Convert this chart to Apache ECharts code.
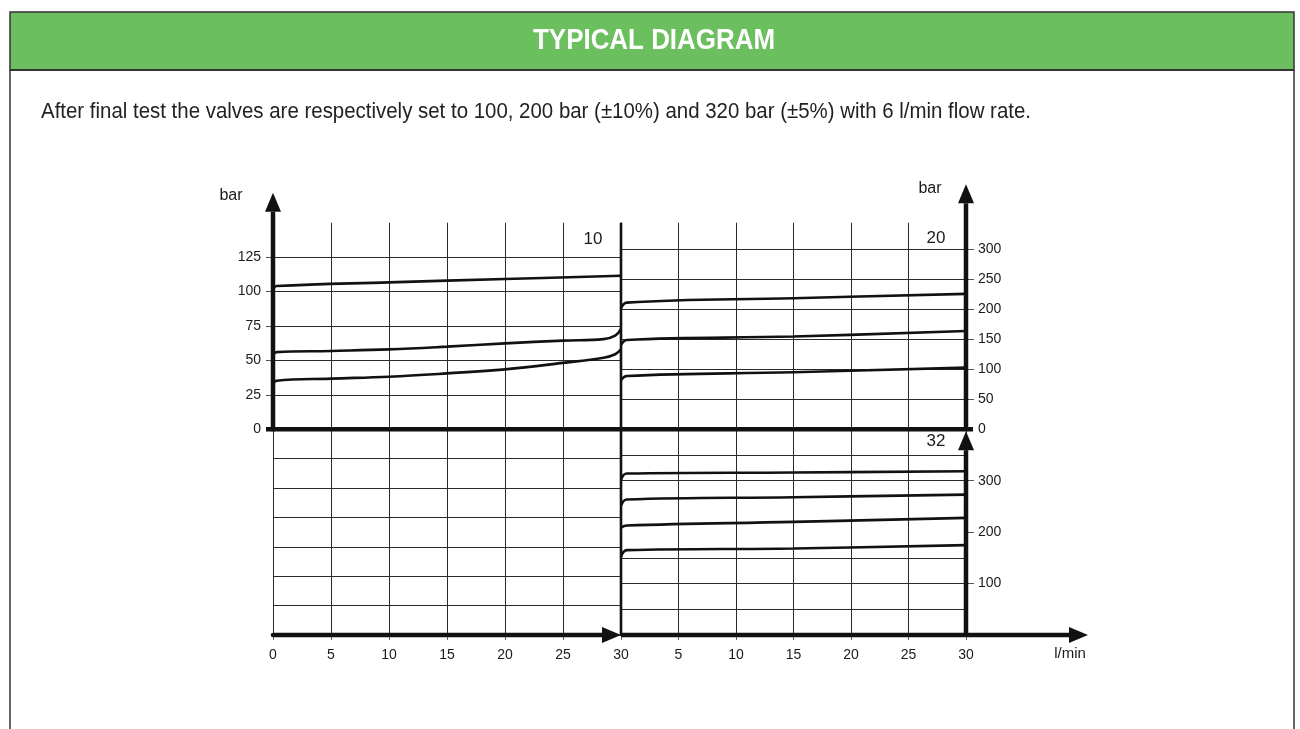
<!DOCTYPE html>
<html><head><meta charset="utf-8">
<script src="https://cdn.jsdelivr.net/npm/echarts@6/dist/echarts.min.js"></script>
<style>html,body{margin:0;padding:0;background:#fff}#c{width:1300px;height:729px}</style>
</head><body><div id="c"></div>
<script>
// ---- data ----
const flowTicks = [0, 5, 10, 15, 20, 25, 30];
const flowTicksRight = [5, 10, 15, 20, 25, 30];
const barTicks10 = [0, 25, 50, 75, 100, 125];
const barTicks20 = [0, 50, 100, 150, 200, 250, 300];
const barTicks32 = [100, 200, 300];
const gridLines32 = [50, 100, 150, 300, 350];

// valve 10 (left upper panel, bar 0-150)
const v10HighX = [0, 0.3, 10, 20, 30];
const v10High  = [102, 104, 106.7, 109.1, 111.5];
const v10MidX  = [0, 0.3, 5, 10, 15, 20, 25, 28.5, 29.5, 30];
const v10Mid   = [54, 56, 56.9, 58, 60, 62.4, 64.4, 65.5, 68, 73];
const v10LowX  = [0, 0.3, 5, 10, 15, 20, 25, 28.5, 29.5, 30];
const v10Low   = [33, 35.3, 36.8, 38.2, 40.6, 43.5, 48.2, 52, 54.5, 58];

// valve 20 (right upper panel, bar 0-300)
const v20X    = [0, 0.5, 15, 30];
const v20High = [201.6, 211, 218.3, 225.5];
const v20Mid  = [140.5, 148.8, 154.4, 163.8];
const v20Low  = [82, 88.8, 95, 102.7];

// valve 32 (right lower panel, bar 0-400)
const v32X  = [0, 0.5, 15, 30];
const v32A  = [302, 314, 316, 318.4];
const v32B  = [252, 263.5, 268, 273];
const v32C  = [209, 213, 220, 227.8];
const v32D  = [152, 165, 168.3, 174.8];

const titleText = 'TYPICAL DIAGRAM';
const noteText = 'After final test the valves are respectively set to 100, 200 bar (\u00b110%) and 320 bar (\u00b15%) with 6 l/min flow rate.';

// ---- chart ----
const chart = echarts.init(document.getElementById('c'), null, {renderer: 'canvas'});
const GRID = '#2a2a2a';
const labelFont = {fontFamily: 'Liberation Sans, Arial, sans-serif', fontSize: 14, color: '#1a1a1a'};
const pair = (xs, ys) => xs.map((x, i) => [x, ys[i]]);

function xAx(g, showLabels, labelVals) {
  return {
    gridIndex: g, type: 'value', min: 0, max: 30, interval: 5,
    axisLine: {show: false, onZero: false},
    axisTick: showLabels ? {show: true, length: 5, lineStyle: {color: '#666'}, customValues: labelVals} : {show: false},
    axisLabel: showLabels ? Object.assign({show: true, margin: 13, customValues: labelVals}, labelFont) : {show: false},
    splitLine: {show: true, lineStyle: {color: GRID, width: 1}}
  };
}
function line(xs, ys, xi, yi, extra) {
  return Object.assign({
    type: 'line', xAxisIndex: xi, yAxisIndex: yi, data: pair(xs, ys),
    symbol: 'none', showSymbol: false, smooth: 0.4, silent: true, z: 5,
    lineStyle: {color: '#111', width: 2.6}
  }, extra || {});
}

const option = {
  animation: false,
  backgroundColor: '#fff',
  grid: [
    {left: 273, top: 222.7, width: 348, height: 206.6},
    {left: 621, top: 222.7, width: 345, height: 206.6},
    {left: 273, top: 429.3, width: 348, height: 205.7},
    {left: 621, top: 429.3, width: 345, height: 205.7}
  ],
  xAxis: [
    xAx(0, false), xAx(1, false),
    xAx(2, true, flowTicks), xAx(3, true, flowTicksRight)
  ],
  yAxis: [
    {gridIndex: 0, type: 'value', min: 0, max: 150, interval: 25, position: 'left',
     axisLine: {show: false, onZero: false},
     axisTick: {show: true, length: 7, lineStyle: {color: '#555'}, customValues: barTicks10.slice(1)},
     axisLabel: Object.assign({margin: 12, customValues: barTicks10}, labelFont),
     splitLine: {show: true, lineStyle: {color: GRID, width: 1}}},
    {gridIndex: 1, type: 'value', min: 0, max: 344, interval: 50, position: 'right',
     axisLine: {show: false, onZero: false},
     axisTick: {show: true, length: 8, lineStyle: {color: '#555'}, customValues: barTicks20.slice(1)},
     axisLabel: Object.assign({margin: 12, customValues: barTicks20}, labelFont),
     splitLine: {show: true, lineStyle: {color: GRID, width: 1}}},
    {gridIndex: 2, type: 'value', min: 0, max: 7, interval: 1,
     axisLine: {show: false, onZero: false}, axisTick: {show: false}, axisLabel: {show: false},
     splitLine: {show: true, lineStyle: {color: GRID, width: 1}}},
    {gridIndex: 3, type: 'value', min: 0, max: 400, interval: 50, position: 'right',
     axisLine: {show: false, onZero: false},
     axisTick: {show: true, length: 8, lineStyle: {color: '#555'}, customValues: barTicks32},
     axisLabel: Object.assign({margin: 12, customValues: barTicks32}, labelFont),
     splitLine: {show: false}}
  ],
  series: [
    line(v10HighX, v10High, 0, 0),
    line(v10MidX, v10Mid, 0, 0),
    line(v10LowX, v10Low, 0, 0),
    line(v20X, v20High, 1, 1),
    line(v20X, v20Mid, 1, 1),
    line(v20X, v20Low, 1, 1),
    line(v32X, v32A, 3, 3, {markLine: {silent: true, symbol: 'none', animation: false,
      label: {show: false}, lineStyle: {color: GRID, width: 1, type: 'solid'},
      emphasis: {disabled: true},
      data: gridLines32.map(v => ({yAxis: v}))}}),
    line(v32X, v32B, 3, 3),
    line(v32X, v32C, 3, 3),
    line(v32X, v32D, 3, 3)
  ]
};
chart.setOption(option);

// ---- decorations (thick axes, arrows, labels, header) ----
const P = (g, xy) => chart.convertToPixel({gridIndex: g}, xy);
const o0 = P(0, [0, 0]), t0 = P(0, [30, 150]);
const L = o0[0], Y0 = o0[1], T = t0[1], M = t0[0];
const R = P(1, [30, 0])[0];
const B = P(2, [0, 0])[1];
const INK = '#111', TW = 4.5, AH = 19, AW = 8;
const seg = (x1, y1, x2, y2, w, cap) => ({type: 'line', silent: true, z: 20,
  shape: {x1, y1, x2, y2}, style: {stroke: INK, lineWidth: w || TW, lineCap: cap || 'butt'}});
const tri = pts => ({type: 'polygon', silent: true, z: 21, shape: {points: pts}, style: {fill: INK}});
const txt = (text, x, y, font, align, color) => ({type: 'text', silent: true, z: 22,
  style: {text, x, y, font, fill: color || '#1a1a1a', textAlign: align || 'center', textVerticalAlign: 'middle'}});
const ARIAL = '"Liberation Sans", Arial, sans-serif';

// condensed header text: Arial-metric font squeezed horizontally to the reference width
const mctx = document.createElement('canvas').getContext('2d');
function fitText(text, font, x, y, width, align, color) {
  mctx.font = font;
  const w = mctx.measureText(text).width || width;
  return {type: 'text', silent: true, z: 22, x, y, scaleX: width / w, scaleY: 1,
    style: {text, x: 0, y: 0, font, fill: color, textAlign: align, textVerticalAlign: 'middle'}};
}
const titleFont = 'bold 29px ' + ARIAL;
const noteFont = '22px ' + ARIAL;

const upTipL = T - 30, upTipR = T - 38.5, lowTip = Y0 + 2, botTipR = R + 122;
chart.setOption({graphic: [
  // page frame + header
  {type: 'rect', silent: true, z: 1, shape: {x: 10, y: 12, width: 1284, height: 58},
   style: {fill: '#6CBF5E', stroke: '#333', lineWidth: 1.5}},
  {type: 'line', silent: true, z: 2, shape: {x1: 10, y1: 70, x2: 1294, y2: 70}, style: {stroke: '#333', lineWidth: 2}},
  {type: 'line', silent: true, z: 2, shape: {x1: 10, y1: 70, x2: 10, y2: 729}, style: {stroke: '#333', lineWidth: 1.5}},
  {type: 'line', silent: true, z: 2, shape: {x1: 1294, y1: 70, x2: 1294, y2: 729}, style: {stroke: '#333', lineWidth: 1.5}},
  fitText(titleText, titleFont, 654, 41, 242, 'center', '#fff'),
  fitText(noteText, noteFont, 41, 111.5, 990, 'left', '#222'),
  // zero line of the upper panels
  seg(L - 7, Y0, R + 7, Y0),
  // left pressure axis with arrow
  seg(L, Y0 + 2, L, upTipL + AH),
  tri([[L - AW, upTipL + AH], [L + AW, upTipL + AH], [L, upTipL]]),
  // right pressure axis (upper) with arrow
  seg(R, Y0, R, upTipR + AH),
  tri([[R - AW, upTipR + AH], [R + AW, upTipR + AH], [R, upTipR]]),
  // right pressure axis (lower) with arrow
  seg(R, B, R, lowTip + AH),
  tri([[R - AW, lowTip + AH], [R + AW, lowTip + AH], [R, lowTip]]),
  // middle divider
  seg(M, T, M, B, 2.6),
  // flow axes with arrows
  seg(L, B, M - AH, B, TW, 'round'),
  tri([[M - AH, B - AW], [M - AH, B + AW], [M, B]]),
  seg(M, B, botTipR - AH, B),
  tri([[botTipR - AH, B - AW], [botTipR - AH, B + AW], [botTipR, B]]),
  // labels
  txt('bar', L - 42, upTipL + 3, '16px ' + ARIAL),
  txt('bar', R - 36, upTipR + 4, '16px ' + ARIAL),
  txt('10', M - 28, T + 16.5, '17px ' + ARIAL),
  txt('20', R - 30, T + 15.5, '17px ' + ARIAL),
  txt('32', R - 30, Y0 + 12, '17px ' + ARIAL),
  txt('l/min', botTipR - 18, B + 19, '15px ' + ARIAL)
]});
</script>
</body></html>
